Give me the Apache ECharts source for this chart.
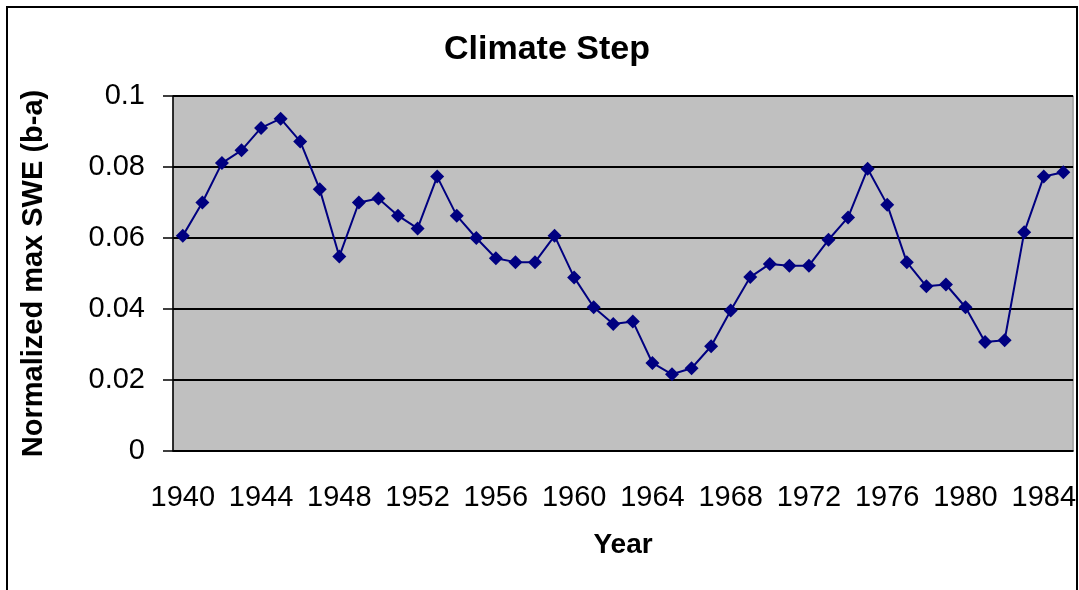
<!DOCTYPE html>
<html>
<head>
<meta charset="utf-8">
<title>Climate Step</title>
<script src="https://cdn.jsdelivr.net/npm/echarts@6/dist/echarts.min.js"></script>
<style>
  html, body { margin: 0; padding: 0; background: #fff; }
  #main { width: 1079px; height: 590px; }
</style>
</head>
<body>
<div id="main"></div>
<script>
// years on the category axis
var years = [];
for (var y = 1940; y <= 1985; y++) years.push(String(y));

// normalized max SWE (b-a)
var sweValues = [
  0.0606, 0.0700, 0.0811, 0.0847, 0.0910, 0.0936, 0.0872, 0.0737, 0.0548, 0.0700,
  0.0711, 0.0663, 0.0627, 0.0773, 0.0663, 0.0600, 0.0543, 0.0532, 0.0532, 0.0606,
  0.0489, 0.0405, 0.0358, 0.0365, 0.0248, 0.0216, 0.0233, 0.0295, 0.0396, 0.0490,
  0.0527, 0.0522, 0.0522, 0.0595, 0.0658, 0.0795, 0.0694, 0.0532, 0.0464, 0.0469,
  0.0405, 0.0307, 0.0312, 0.0616, 0.0773, 0.0785
];

var yTicks = [0, 0.02, 0.04, 0.06, 0.08, 0.1];

var font = '"Liberation Sans", Arial, sans-serif';

var myChart = echarts.init(document.getElementById('main'));

var option = {
  animation: false,
  title: {
    text: 'Climate Step',
    left: 542,
    top: 28,
    textAlign: 'center',
    textStyle: { fontFamily: font, fontSize: 34, fontWeight: 'bold', color: '#000' }
  },
  // outer chart border
  graphic: [{
    type: 'rect',
    shape: { x: 7, y: 7, width: 1070, height: 600 },
    style: { fill: 'none', stroke: '#000', lineWidth: 2 },
    silent: true
  }],
  grid: {
    left: 173,
    right: 4,
    top: 96,
    bottom: 139,
    show: true,
    backgroundColor: '#C0C0C0',
    borderColor: '#808080',
    borderWidth: 1
  },
  xAxis: {
    type: 'category',
    data: years,
    boundaryGap: true,
    name: 'Year',
    nameLocation: 'middle',
    nameGap: 80,
    nameTextStyle: { fontFamily: font, fontSize: 28, fontWeight: 'bold', color: '#000' },
    axisLine: { lineStyle: { color: '#000', width: 1.5 } },
    axisTick: { interval: 3, length: 10, lineStyle: { color: '#000', width: 1.5 } },
    axisLabel: {
      interval: 3,
      margin: 32,
      fontFamily: font,
      fontSize: 29,
      color: '#000'
    },
    splitLine: { show: false }
  },
  yAxis: {
    type: 'value',
    min: yTicks[0],
    max: yTicks[yTicks.length - 1],
    interval: 0.02,
    name: 'Normalized max SWE (b-a)',
    nameLocation: 'middle',
    nameRotate: 90,
    nameGap: 125,
    nameTextStyle: { fontFamily: font, fontSize: 29, fontWeight: 'bold', color: '#000' },
    axisLine: { show: true, lineStyle: { color: '#000', width: 1.5 } },
    axisTick: { show: true, length: 10, lineStyle: { color: '#000', width: 1.5 } },
    axisLabel: {
      margin: 28,
      fontFamily: font,
      fontSize: 29,
      color: '#000',
      formatter: function (value) {
        return value === 0 ? '0' : String(+value.toFixed(2));
      }
    },
    splitLine: { show: true, lineStyle: { color: '#000', width: 1.8 } }
  },
  series: [{
    name: 'SWE',
    type: 'line',
    data: sweValues,
    symbol: 'diamond',
    symbolSize: 14,
    showAllSymbol: true,
    itemStyle: { color: '#000080' },
    lineStyle: { color: '#000080', width: 2 }
  }]
};

myChart.setOption(option);
</script>
</body>
</html>
